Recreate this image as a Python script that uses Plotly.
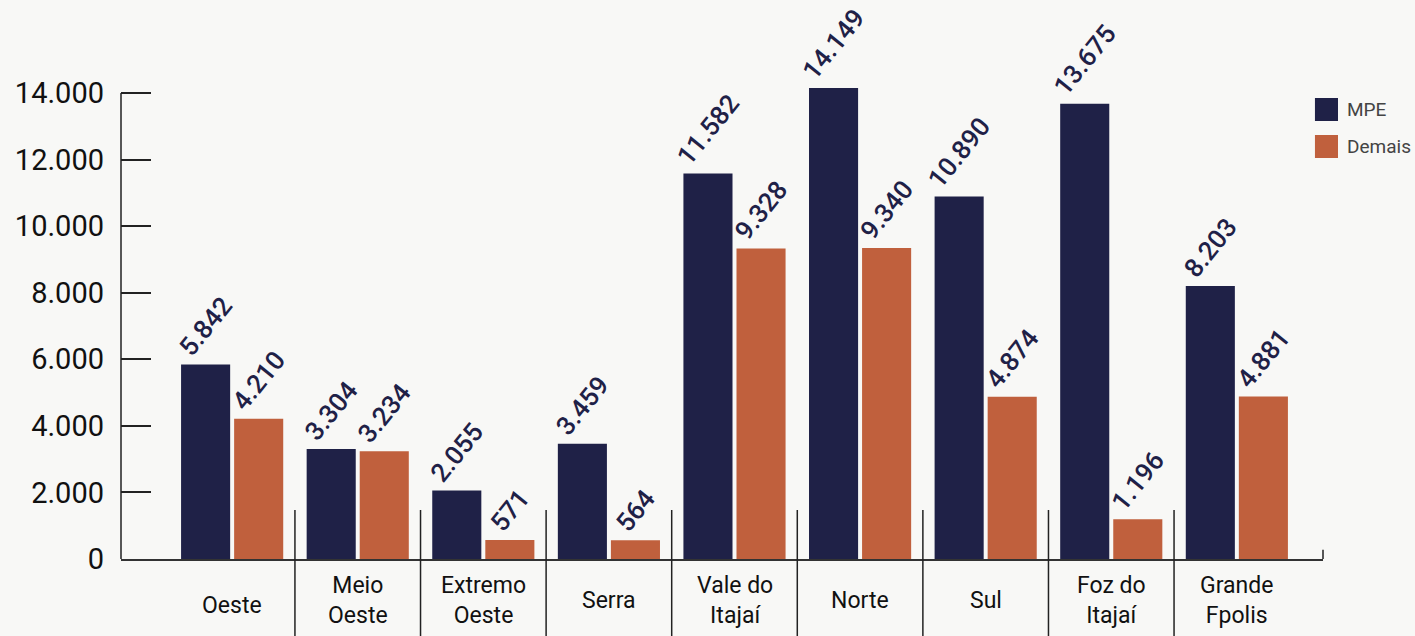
import plotly.graph_objects as go

categories = ["Oeste", "Meio<br>Oeste", "Extremo<br>Oeste", "Serra", "Vale do<br>Itajaí",
              "Norte", "Sul", "Foz do<br>Itajaí", "Grande<br>Fpolis"]
mpe = [5842, 3304, 2055, 3459, 11582, 14149, 10890, 13675, 8203]
demais = [4210, 3234, 571, 564, 9328, 9340, 4874, 1196, 4881]
series_names = ["MPE", "Demais"]
y_ticks = [0, 2000, 4000, 6000, 8000, 10000, 12000, 14000]

NAVY = "#1f2147"
ORANGE = "#c0603d"
BG = "#f8f8f6"
FONT = "Roboto"

xpos = list(range(len(categories)))

fig = go.Figure()
for name, vals, col in [(series_names[0], mpe, NAVY), (series_names[1], demais, ORANGE)]:
    fig.add_trace(go.Bar(
        x=xpos, y=vals, name=name, marker=dict(color=col, line=dict(width=0)),
        texttemplate="%{y:,.0f}", textposition="outside", textangle=-51,
        textfont=dict(family=FONT, size=26, color=NAVY, weight=500),
        constraintext="none", cliponaxis=False, showlegend=False,
    ))

fig.update_layout(
    width=1415, height=636,
    margin=dict(l=121, r=92, t=20, b=77),
    paper_bgcolor=BG, plot_bgcolor=BG,
    barmode="group", bargap=0.155, bargroupgap=0.075,
    separators=",.",
    font=dict(family=FONT, color="#111111"),
    showlegend=False,
)

fig.update_xaxes(
    range=[-0.885, 8.686], showticklabels=False, ticks="", showgrid=False, zeroline=False,
    showline=True, linecolor="#333333", linewidth=1.5,
)
fig.update_yaxes(
    range=[0, 16193], tickvals=y_ticks, tickformat=",.0f",
    ticks="inside", ticklen=30, tickwidth=1.5, tickcolor="#222222",
    tickfont=dict(family=FONT, size=29, color="#111111"),
    ticklabelstandoff=16,
    showgrid=False, zeroline=False, showline=False,
)

# y axis line from 0 to top tick
fig.add_shape(type="line", xref="paper", yref="y", x0=0, x1=0, y0=0, y1=y_ticks[-1],
              line=dict(color="#222222", width=1.5))
# right end tick of baseline
fig.add_shape(type="line", xref="paper", yref="y", x0=1, x1=1, y0=0, y1=280,
              line=dict(color="#222222", width=1.5))

# category separators
for k in range(len(categories) - 1):
    fig.add_shape(type="line", xref="x", yref="paper", x0=k + 0.5, x1=k + 0.5,
                  y0=0.0909, y1=-0.145, line=dict(color="#222222", width=1.5))

# category labels
for k, c in enumerate(categories):
    yy = -0.0855 if k == 0 else -0.0779
    fig.add_annotation(x=k, y=yy, xref="x", yref="paper", text=c, showarrow=False,
                       xanchor="center", yanchor="middle",
                       font=dict(family=FONT, size=23, color="#111111"))

# legend
leg = [(series_names[0], NAVY, 0.8553, 0.8126), (series_names[1], ORANGE, 0.7866, 0.7440)]
for name, col, ytop, ybot in leg:
    fig.add_shape(type="rect", xref="paper", yref="paper", x0=0.9933, x1=1.0125,
                  y0=ybot, y1=ytop, fillcolor=col, line=dict(width=0))
    fig.add_annotation(x=1.0183, y=(ytop + ybot) / 2, xref="paper", yref="paper", text=name,
                       showarrow=False, xanchor="left", yanchor="middle",
                       font=dict(family=FONT, size=19, color="#444444"))

fig.write_html("out.html", config={"displayModeBar": False},
               post_script="document.body.style.margin='0';document.body.style.overflow='hidden';")
